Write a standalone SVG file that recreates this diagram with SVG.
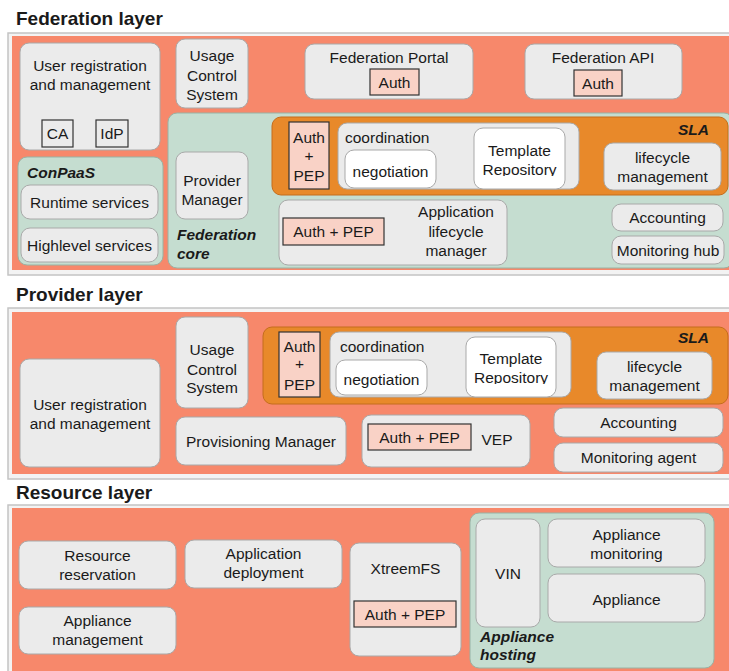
<svg xmlns="http://www.w3.org/2000/svg" width="729" height="671" viewBox="0 0 729 671">
<style>
text{font-family:"Liberation Sans",Arial,sans-serif;font-size:15.5px;fill:#1a1a1a}
.c{text-anchor:middle}
.title{font-weight:bold;font-size:19px}
.bi{font-weight:bold;font-style:italic}
.frame{fill:#f3f3f3;stroke:#c4c4c4;stroke-width:1.5}
.layer{fill:#f7886b}
.node{fill:#ebebeb;stroke:#a9a9a9;stroke-width:1}
.white{fill:#ffffff;stroke:#a9a9a9;stroke-width:1}
.green{fill:#c5ddd0;stroke:#98b3a5;stroke-width:1}
.sla{fill:#e8892a;stroke:#c46d1c;stroke-width:1}
.pink{fill:#f9d2c6;stroke:#333;stroke-width:1.2}
.box{fill:none;stroke:#333;stroke-width:1.2}
</style>
<defs>
<clipPath id="clipTR1"><rect x="474" y="128" width="91" height="48"/></clipPath>
<clipPath id="clipTR2"><rect x="466" y="337" width="90" height="47"/></clipPath>
</defs>
<rect width="729" height="671" fill="#ffffff"/>

<!-- Federation layer -->
<g id="federation-layer">
<text class="title" x="16" y="25">Federation layer</text>
<rect class="frame" x="8" y="33" width="725" height="242"/>
<rect class="layer" x="12" y="36" width="717" height="234"/>
</g>
<g id="fed-user-registration">
<rect class="node" x="20" y="43" width="140" height="107" rx="9"/>
<text class="c" x="90" y="71">User registration</text>
<text class="c" x="90" y="90">and management</text>
<rect class="box" x="42" y="120" width="31" height="27"/>
<text class="c" x="57.5" y="139">CA</text>
<rect class="box" x="96" y="120" width="32" height="27"/>
<text class="c" x="112" y="139">IdP</text>
</g>
<g id="conpaas">
<rect class="green" x="18" y="157" width="145" height="108" rx="9"/>
<text class="bi" x="27" y="178">ConPaaS</text>
<rect class="node" x="21" y="185" width="137" height="34" rx="9"/>
<text class="c" x="89.5" y="208">Runtime services</text>
<rect class="node" x="21" y="228" width="137" height="34" rx="9"/>
<text class="c" x="89.5" y="251">Highlevel services</text>
</g>
<g id="fed-usage-control">
<rect class="node" x="176" y="39" width="72" height="69" rx="9"/>
<text class="c" x="212" y="61">Usage</text>
<text class="c" x="212" y="81">Control</text>
<text class="c" x="212" y="100">System</text>
</g>
<g id="federation-portal">
<rect class="node" x="305" y="44" width="168" height="55" rx="9"/>
<text class="c" x="389" y="63">Federation Portal</text>
<rect class="pink" x="370" y="69" width="49" height="26"/>
<text class="c" x="394.5" y="88">Auth</text>
</g>
<g id="federation-api">
<rect class="node" x="525" y="44" width="157" height="55" rx="9"/>
<text class="c" x="603" y="63">Federation API</text>
<rect class="pink" x="574" y="70" width="48" height="26"/>
<text class="c" x="598" y="89">Auth</text>
</g>
<g id="federation-core">
<rect class="green" x="168" y="113" width="565" height="155" rx="9"/>
<text class="bi" x="177" y="240">Federation</text>
<text class="bi" x="177" y="259">core</text>
</g>
<g id="provider-manager">
<rect class="node" x="176" y="152" width="72" height="67" rx="9"/>
<text class="c" x="212" y="186">Provider</text>
<text class="c" x="212" y="205">Manager</text>
</g>
<g id="fed-sla">
<rect class="sla" x="272" y="117" width="456" height="78" rx="9"/>
<text class="bi" x="709" y="135" text-anchor="end">SLA</text>
<rect class="pink" x="289" y="122" width="40" height="67"/>
<text class="c" x="309" y="143">Auth</text>
<text class="c" x="309" y="161">+</text>
<text class="c" x="309" y="181">PEP</text>
<rect class="node" x="338" y="123" width="241" height="66" rx="9"/>
<text x="345" y="143">coordination</text>
<rect class="white" x="345" y="150" width="91" height="38" rx="9"/>
<text class="c" x="390.5" y="177">negotiation</text>
<rect class="white" x="474" y="128" width="91" height="61" rx="9"/>
<text class="c" x="519.5" y="156">Template</text>
<text class="c" x="519.5" y="175" clip-path="url(#clipTR1)">Repository</text>
<rect class="node" x="604" y="143" width="117" height="47" rx="9"/>
<text class="c" x="662.5" y="163">lifecycle</text>
<text class="c" x="662.5" y="182">management</text>
</g>
<g id="app-lifecycle-manager">
<rect class="node" x="279" y="200" width="228" height="65" rx="9"/>
<text class="c" x="456" y="217">Application</text>
<text class="c" x="456" y="237">lifecycle</text>
<text class="c" x="456" y="256">manager</text>
<rect class="pink" x="283" y="218" width="101" height="27"/>
<text class="c" x="333.5" y="237">Auth + PEP</text>
</g>
<g id="fed-accounting">
<rect class="node" x="612" y="204" width="111" height="27" rx="9"/>
<text class="c" x="667.5" y="223">Accounting</text>
</g>
<g id="monitoring-hub">
<rect class="node" x="612" y="236" width="112" height="28" rx="9"/>
<text class="c" x="668" y="256">Monitoring hub</text>
</g>

<!-- Provider layer -->
<g id="provider-layer">
<text class="title" x="16" y="301">Provider layer</text>
<rect class="frame" x="8" y="308" width="725" height="171"/>
<rect class="layer" x="12" y="312" width="717" height="162"/>
</g>
<g id="prov-user-registration">
<rect class="node" x="20" y="359" width="140" height="108" rx="9"/>
<text class="c" x="90" y="410">User registration</text>
<text class="c" x="90" y="429">and management</text>
</g>
<g id="prov-usage-control">
<rect class="node" x="176" y="317" width="72" height="91" rx="9"/>
<text class="c" x="212" y="355">Usage</text>
<text class="c" x="212" y="375">Control</text>
<text class="c" x="212" y="393">System</text>
</g>
<g id="prov-sla">
<rect class="sla" x="263" y="327" width="465" height="77" rx="9"/>
<text class="bi" x="709" y="343" text-anchor="end">SLA</text>
<rect class="pink" x="279" y="332" width="41" height="65"/>
<text class="c" x="299.5" y="352">Auth</text>
<text class="c" x="299.5" y="369">+</text>
<text class="c" x="299.5" y="390">PEP</text>
<rect class="node" x="330" y="332" width="241" height="65" rx="9"/>
<text x="340" y="352">coordination</text>
<rect class="white" x="336" y="360" width="91" height="35" rx="9"/>
<text class="c" x="381.5" y="385">negotiation</text>
<rect class="white" x="466" y="337" width="90" height="60" rx="9"/>
<text class="c" x="511" y="364">Template</text>
<text class="c" x="511" y="383" clip-path="url(#clipTR2)">Repository</text>
<rect class="node" x="597" y="352" width="115" height="47" rx="9"/>
<text class="c" x="654.5" y="372">lifecycle</text>
<text class="c" x="654.5" y="391">management</text>
</g>
<g id="provisioning-manager">
<rect class="node" x="176" y="417" width="170" height="48" rx="9"/>
<text class="c" x="261" y="447">Provisioning Manager</text>
</g>
<g id="vep">
<rect class="node" x="362" y="415" width="168" height="52" rx="9"/>
<rect class="pink" x="368" y="424" width="103" height="26"/>
<text class="c" x="419.5" y="443">Auth + PEP</text>
<text class="c" x="497" y="445">VEP</text>
</g>
<g id="prov-accounting">
<rect class="node" x="554" y="408" width="169" height="29" rx="9"/>
<text class="c" x="638.5" y="428">Accounting</text>
</g>
<g id="monitoring-agent">
<rect class="node" x="554" y="443" width="169" height="29" rx="9"/>
<text class="c" x="638.5" y="463">Monitoring agent</text>
</g>

<!-- Resource layer -->
<g id="resource-layer">
<text class="title" x="16" y="499">Resource layer</text>
<rect class="frame" x="8" y="505" width="725" height="170"/>
<rect class="layer" x="12" y="508" width="717" height="163"/>
</g>
<g id="resource-reservation">
<rect class="node" x="19" y="541" width="157" height="48" rx="9"/>
<text class="c" x="97.5" y="561">Resource</text>
<text class="c" x="97.5" y="580">reservation</text>
</g>
<g id="application-deployment">
<rect class="node" x="185" y="540" width="157" height="48" rx="9"/>
<text class="c" x="263.5" y="559">Application</text>
<text class="c" x="263.5" y="578">deployment</text>
</g>
<g id="appliance-management">
<rect class="node" x="19" y="607" width="157" height="47" rx="9"/>
<text class="c" x="97.5" y="626">Appliance</text>
<text class="c" x="97.5" y="645">management</text>
</g>
<g id="xtreemfs">
<rect class="node" x="350" y="543" width="111" height="113" rx="9"/>
<text class="c" x="405.5" y="574">XtreemFS</text>
<rect class="pink" x="354" y="601" width="102" height="26"/>
<text class="c" x="405" y="620">Auth + PEP</text>
</g>
<g id="appliance-hosting">
<rect class="green" x="470" y="513" width="244" height="155" rx="9"/>
<text class="bi" x="480" y="642">Appliance</text>
<text class="bi" x="480" y="660">hosting</text>
</g>
<g id="vin">
<rect class="node" x="476" y="519" width="64" height="108" rx="9"/>
<text class="c" x="508" y="579">VIN</text>
</g>
<g id="appliance-monitoring">
<rect class="node" x="548" y="519" width="157" height="48" rx="9"/>
<text class="c" x="626.5" y="540">Appliance</text>
<text class="c" x="626.5" y="559">monitoring</text>
</g>
<g id="appliance">
<rect class="node" x="548" y="574" width="157" height="48" rx="9"/>
<text class="c" x="626.5" y="605">Appliance</text>
</g>
</svg>
